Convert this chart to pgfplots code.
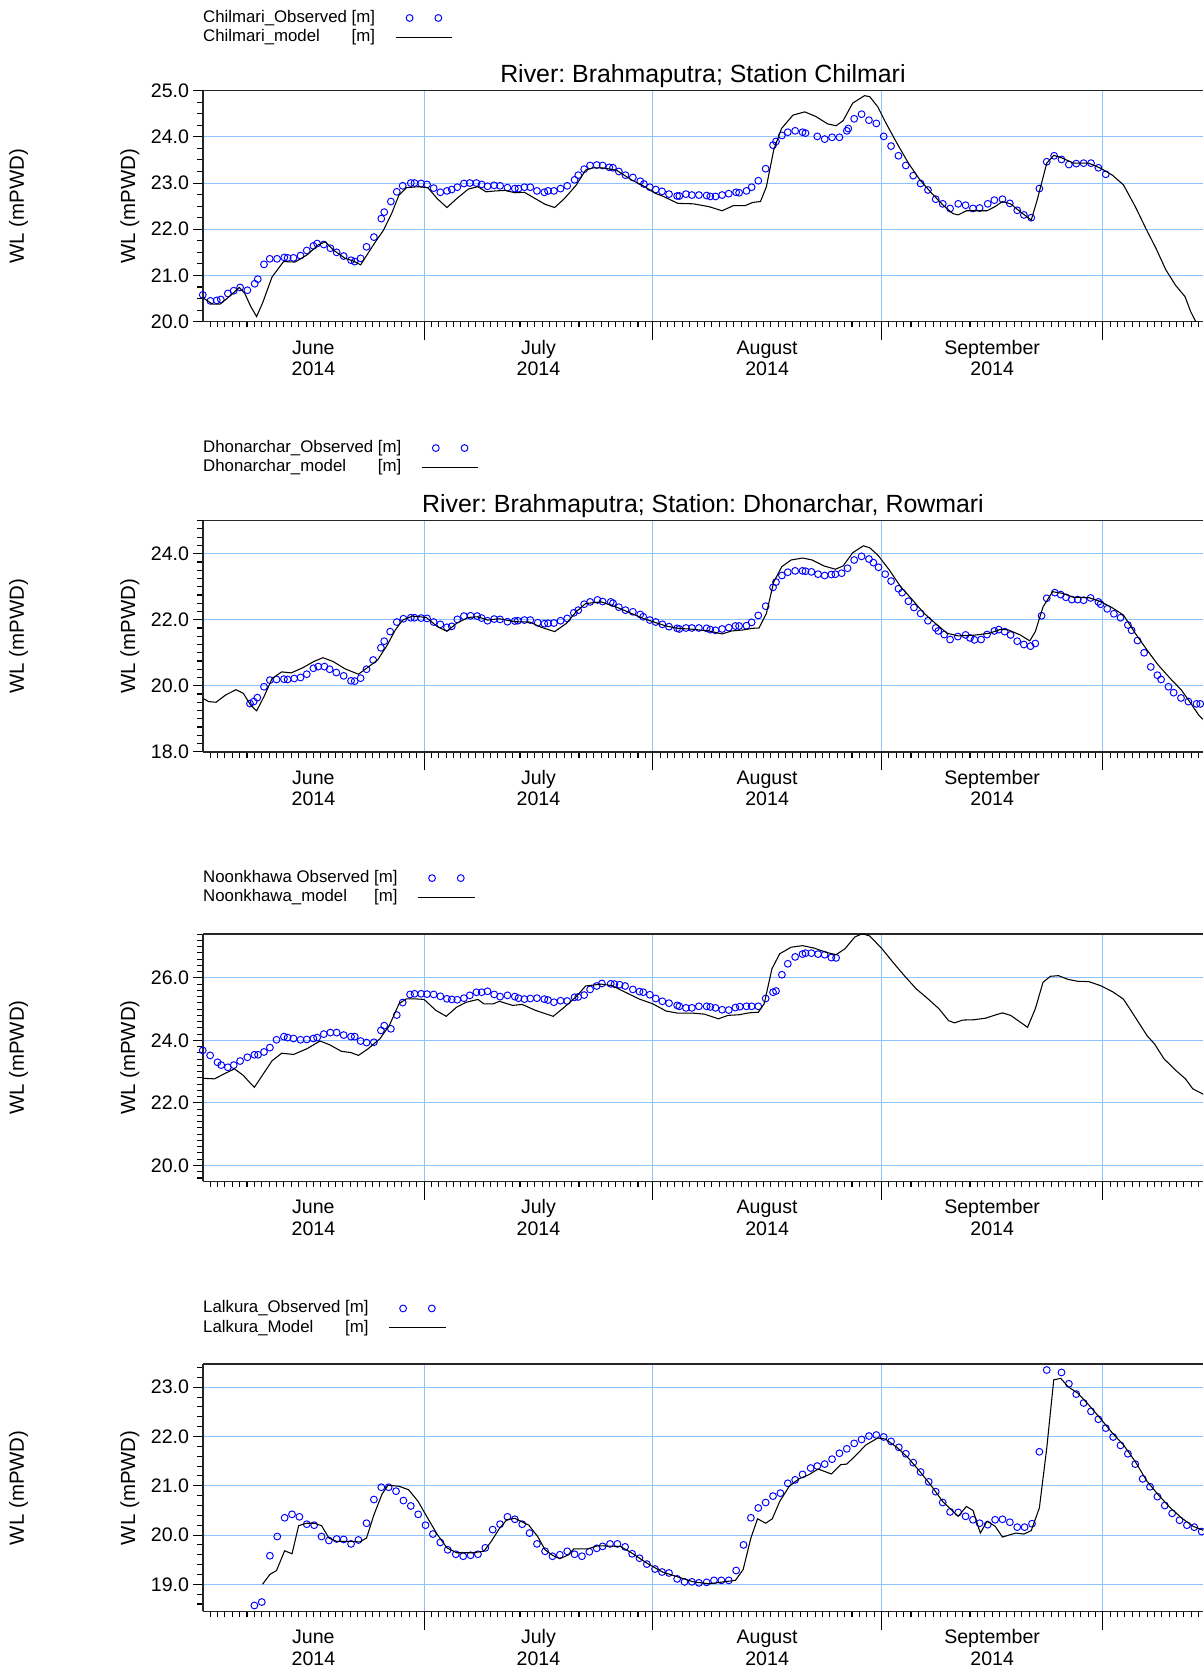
\documentclass[border=0pt]{standalone}
\usepackage{fontspec}
\setmainfont{Liberation Sans}
\usepackage{pgfplots}
\pgfplotsset{compat=1.18}
\frenchspacing
\definecolor{gridblue}{RGB}{140,195,255}
\definecolor{obsblue}{RGB}{0,0,255}
\newcommand{\tickfont}{\fontsize{9.2}{10.2}\selectfont}
\newcommand{\labfont}{\fontsize{9.6}{11}\selectfont}
\newcommand{\legfont}{\fontsize{7.9}{9}\selectfont}
\pgfplotsset{
  panel/.style={
    width=470.2pt, scale only axis,
    clip mode=individual,
    xmin=0, xmax=135.6,
    axis x line*=box, axis y line*=left,
    xtick pos=left, ytick pos=left,
    tick align=outside,
    major tick length=4.4pt, minor tick length=2.8pt,
    xtick={30,61,92,122}, xticklabels={},
    minor xtick={1,2,...,135},
    xtick style={/pgfplots/major tick length=8.7pt,/pgfplots/minor tick length=2.7pt},
    tick style={line width=0.5pt, black},
    xmajorgrids, ymajorgrids,
    major grid style={line width=0.5pt, gridblue},
    axis line style={line width=0.7pt, black!85},
    extra x ticks={15,45.5,76.5,107},
    extra x tick labels={{\vphantom{l}June\\2014},{\vphantom{l}July\\2014},{\vphantom{l}August\\2014},{\vphantom{l}September\\2014}},
    extra x tick style={grid=none, /pgfplots/major tick length=0pt, tick style={draw=none},
      tick label style={align=center, font=\tickfont, yshift=-5pt}},
    /pgf/number format/assume math mode=true,
    tick label style={font=\tickfont},
    yticklabel style={xshift=1.5pt, /pgf/number format/.cd, fixed, fixed zerofill, precision=1},
    legend cell align=left,
    legend plot pos=right,
    legend style={at={(0,1)}, anchor=south west, draw=none, fill=none, inner sep=0pt,
      font=\legfont, row sep=0.85pt, column sep=9.5pt,
      nodes={inner sep=0pt, text height=6.2pt, text depth=2pt}},
    title style={font=\fontsize{11.7}{13}\selectfont, at={(0.5,1)}, anchor=base, yshift=-2.3pt},
  },
  obs/.style={only marks, mark=o, mark size=1.6pt, color=obsblue, mark options={line width=0.45pt},
    legend image code/.code={\path (0pt,0pt) (26.5pt,0pt);
      \draw[obsblue, line width=0.45pt] plot[only marks, mark=o, mark size=1.6pt] coordinates {(6.5pt,0pt) (20pt,0pt)};}},
  mod/.style={black, line width=0.5pt, no marks,
    legend image code/.code={\draw[black, line width=0.5pt] (0pt,0pt) -- (26.5pt,0pt);}},
}
\newcommand{\wllabels}{%
  \node[rotate=90, font=\labfont, anchor=center] at ([xshift=-34.3pt]axis description cs:0,0.5) {WL (mPWD)};
  \node[rotate=90, font=\labfont, anchor=center] at ([xshift=-86.6pt]axis description cs:0,0.5) {WL (mPWD)};
}
\begin{document}
\begin{tikzpicture}
\path[use as bounding box] (0,0) rectangle (565.5pt,784pt);
% ---------------- Panel 1 ----------------
\begin{axis}[panel, at={(95.3pt,632.8pt)}, anchor=south west, height=108.6pt,
  ymin=20, ymax=25, ytick={20,21,...,25}, minor ytick={20,20.25,...,25},
  title={River: Brahmaputra; Station Chilmari},
  legend style={yshift=20.8pt}]
\addplot[obs] coordinates {
(0,20.58)(1.04,20.45)(1.9,20.46)(2.45,20.48)(3.4,20.61)(4.2,20.67)(5.06,20.74)(6.05,20.68)(7.04,20.82)(7.46,20.92)
(8.3,21.24)(9.08,21.36)(10.07,21.36)(11.06,21.39)(11.5,21.38)(12.3,21.38)(13.25,21.43)(14.1,21.54)(15.0,21.64)(15.5,21.69)
(16.4,21.67)(17.3,21.59)(18.15,21.5)(19.1,21.42)(20.1,21.33)(20.6,21.30)(21.4,21.37)(22.2,21.62)(23.2,21.83)(24.2,22.23)
(24.6,22.37)(25.5,22.6)(26.3,22.81)(27.1,22.94)(28.2,23.0)(28.7,23.0)(29.6,22.99)(30.4,22.97)(31.3,22.89)(32.2,22.8)
(33.1,22.83)(33.75,22.86)(34.5,22.91)(35.4,22.99)(36.2,23.0)(37.1,23.0)(37.8,22.97)(38.6,22.93)(39.5,22.95)(40.3,22.94)
(41.3,22.9)(42.3,22.88)(42.8,22.88)(43.6,22.91)(44.4,22.91)(45.3,22.83)(46.3,22.8)(46.8,22.83)(47.6,22.83)(48.5,22.88)
(49.4,22.94)(50.4,23.07)(50.9,23.17)(51.7,23.3)(52.5,23.38)(53.4,23.39)(54.2,23.38)(55.1,23.34)(55.6,23.33)(56.4,23.25)
(57.3,23.17)(58.3,23.12)(59.3,23.04)(59.8,22.98)(60.6,22.91)(61.4,22.86)(62.25,22.82)(63.2,22.76)(64.3,22.72)(64.6,22.72)
(65.5,22.76)(66.3,22.74)(67.25,22.74)(68.3,22.73)(68.8,22.71)(69.5,22.71)(70.4,22.74)(71.3,22.77)(72.3,22.8)(72.7,22.79)
(73.7,22.83)(74.4,22.91)(75.3,23.05)(76.3,23.31)(77.3,23.82)(77.7,23.9)(78.5,24.03)(79.3,24.1)(80.3,24.13)(81.3,24.1)
(81.7,24.08)(83.3,24.01)(84.3,23.95)(85.3,23.99)(86.3,23.99)(87.3,24.13)(87.5,24.18)(88.3,24.39)(89.3,24.49)(90.3,24.36)
(91.3,24.29)(92.3,24.01)(93.3,23.8)(94.3,23.59)(95.3,23.38)(96.3,23.16)(97.3,22.99)(98.3,22.85)(99.35,22.65)(100.3,22.55)
(101.3,22.45)(102.4,22.55)(103.4,22.52)(104.4,22.45)(105.3,22.46)(106.4,22.55)(107.3,22.63)(108.4,22.65)(109.4,22.56)(110.4,22.41)
(111.3,22.31)(112.3,22.25)(113.4,22.88)(114.4,23.46)(115.4,23.59)(116.4,23.51)(117.4,23.4)(118.4,23.42)(119.4,23.43)(120.4,23.43)
(121.4,23.33)(122.4,23.19)};
\addlegendentry{Chilmari\_Observed [m]}
\addplot[mod] coordinates {
(0,20.52)(1.3,20.38)(2.35,20.38)(3.65,20.55)(4.95,20.74)(5.7,20.61)(6.5,20.33)(7.3,20.11)(8.1,20.4)(9.4,20.97)
(10.95,21.3)(12.5,21.29)(14.1,21.44)(15.65,21.66)(16.6,21.73)(17.7,21.55)(19.3,21.37)(20.3,21.32)(21.4,21.23)(22.4,21.48)
(23.5,21.75)(24.5,21.98)(25.6,22.34)(26.6,22.74)(27.6,22.9)(29.2,22.92)(30.5,22.9)(31.8,22.66)(33.1,22.47)(34.4,22.66)
(36.0,22.87)(37.3,22.92)(38.4,22.81)(39.7,22.83)(41.0,22.84)(42.3,22.79)(43.6,22.8)(45.1,22.66)(46.4,22.54)(47.7,22.47)
(49.0,22.66)(50.6,22.95)(51.9,23.28)(52.9,23.33)(54.1,23.33)(56.05,23.28)(58.1,23.07)(59.7,22.94)(61.3,22.78)(62.3,22.72)
(64.4,22.56)(66.5,22.55)(68.6,22.49)(70.4,22.4)(71.9,22.51)(73.5,22.51)(74.55,22.58)(75.6,22.6)(76.4,22.92)(77.4,23.72)
(78.45,24.18)(80.0,24.47)(81.6,24.54)(83.1,24.44)(84.7,24.28)(85.85,24.24)(86.8,24.35)(88.1,24.73)(89.7,24.89)(90.4,24.87)
(91.5,24.65)(92.5,24.33)(94.1,23.86)(95.65,23.43)(97.2,23.07)(98.8,22.78)(100.3,22.53)(101.65,22.34)(102.4,22.31)(103.5,22.4)
(105.0,22.4)(106.3,22.4)(107.4,22.49)(108.4,22.6)(109.5,22.55)(110.8,22.38)(112.3,22.2)(113.1,22.63)(114.4,23.43)(115.35,23.6)
(116.5,23.54)(118.05,23.43)(120.1,23.43)(121.7,23.32)(123.3,23.17)(124.8,22.96)(126.4,22.49)(127.95,21.98)(129.2,21.59)(130.55,21.12)
(131.85,20.79)(133.15,20.54)(133.9,20.22)(134.6,20.0)(135.0,19.8)};
\addlegendentry{\rlap{Chilmari\_model}\hphantom{Chilmari\_Observed }[m]}
\wllabels
\end{axis}
% ---------------- Panel 2 ----------------
\begin{axis}[panel, at={(95.3pt,430.65pt)}, anchor=south west, height=108.6pt,
  ymin=18, ymax=25, ytick={18,20,22,24}, minor ytick={18,18.25,...,25},
  title={River: Brahmaputra; Station: Dhonarchar, Rowmari},
  legend style={yshift=20.8pt}]
\addplot[obs] coordinates {
(6.4,19.46)(6.9,19.52)(7.4,19.64)(8.3,19.97)(9.1,20.17)(10.0,20.19)(11.0,20.2)(11.5,20.19)(12.4,20.22)(13.25,20.25)
(14.1,20.35)(15.0,20.53)(15.65,20.58)(16.5,20.58)(17.2,20.5)(18.1,20.4)(19.1,20.3)(20.1,20.15)(20.6,20.14)(21.4,20.23)
(22.2,20.5)(23.1,20.78)(24.15,21.15)(24.6,21.35)(25.4,21.64)(26.3,21.93)(27.2,22.03)(28.2,22.06)(28.7,22.06)(29.6,22.05)
(30.4,22.04)(31.3,21.93)(32.2,21.86)(33.1,21.77)(33.75,21.8)(34.5,22.01)(35.4,22.11)(36.3,22.12)(37.2,22.11)(37.8,22.05)
(38.6,21.97)(39.5,22.02)(40.3,22.01)(41.3,21.94)(42.3,21.96)(42.7,21.97)(43.6,21.99)(44.4,21.99)(45.4,21.91)(46.3,21.88)
(46.8,21.89)(47.6,21.9)(48.5,21.97)(49.4,22.04)(50.3,22.21)(50.9,22.29)(51.7,22.47)(52.5,22.54)(53.5,22.6)(54.2,22.55)
(55.3,22.54)(55.6,22.5)(56.4,22.38)(57.3,22.29)(58.3,22.24)(59.3,22.16)(59.7,22.09)(60.6,21.99)(61.4,21.93)(62.3,21.86)
(63.2,21.79)(64.3,21.74)(64.6,21.72)(65.5,21.75)(66.3,21.75)(67.25,21.75)(68.3,21.74)(68.8,21.7)(69.5,21.68)(70.4,21.72)
(71.3,21.76)(72.2,21.81)(72.7,21.81)(73.7,21.82)(74.4,21.92)(75.3,22.13)(76.3,22.41)(77.3,22.98)(77.7,23.14)(78.5,23.34)
(79.3,23.44)(80.3,23.48)(81.3,23.48)(81.7,23.47)(82.5,23.45)(83.4,23.38)(84.3,23.34)(85.2,23.37)(85.75,23.38)(86.6,23.41)
(87.4,23.56)(88.3,23.81)(89.3,23.92)(90.3,23.84)(90.9,23.73)(91.6,23.59)(92.5,23.38)(93.3,23.17)(94.3,22.94)(94.8,22.82)
(95.65,22.56)(96.4,22.37)(97.3,22.19)(98.3,21.97)(99.35,21.75)(99.7,21.66)(100.5,21.55)(101.3,21.4)(102.35,21.49)(103.4,21.54)
(104.0,21.45)(104.6,21.39)(105.5,21.4)(106.3,21.55)(107.3,21.66)(107.9,21.7)(108.7,21.64)(109.5,21.54)(110.4,21.35)(111.3,21.25)
(112.2,21.2)(112.85,21.28)(113.7,22.12)(114.4,22.65)(115.5,22.82)(116.3,22.76)(117.0,22.68)(117.8,22.61)(118.6,22.61)(119.4,22.59)
(120.35,22.66)(121.4,22.54)(121.7,22.47)(122.6,22.33)(123.5,22.18)(124.4,22.06)(125.4,21.84)(125.9,21.68)(126.7,21.37)(127.6,21.0)
(128.5,20.57)(129.4,20.32)(129.9,20.19)(130.9,19.97)(131.6,19.79)(132.6,19.63)(133.6,19.52)(134.7,19.45)(135.2,19.45)};
\addlegendentry{Dhonarchar\_Observed [m]}
\addplot[mod] coordinates {
(0,19.62)(0.8,19.52)(1.8,19.5)(3.1,19.72)(4.5,19.88)(5.5,19.77)(6.5,19.41)(7.3,19.24)(8.3,19.67)(9.4,20.22)
(10.7,20.42)(12.0,20.39)(13.6,20.55)(15.1,20.74)(16.3,20.85)(17.7,20.73)(19.3,20.51)(21.1,20.35)(22.4,20.56)(23.7,20.78)
(25.0,21.23)(26.1,21.69)(27.1,21.99)(28.4,22.11)(30.3,22.07)(31.8,21.79)(33.1,21.65)(34.4,21.89)(36.0,22.07)(37.3,22.09)
(38.6,21.99)(40.2,22.03)(42.3,21.94)(44.3,21.93)(45.9,21.77)(47.7,21.64)(49.3,21.89)(50.6,22.24)(51.9,22.49)(54.0,22.54)
(56.0,22.39)(58.1,22.19)(59.7,22.04)(61.3,21.92)(62.8,21.81)(64.4,21.74)(66.5,21.71)(68.6,21.66)(70.4,21.57)(71.7,21.66)
(73.2,21.69)(74.5,21.74)(75.4,21.75)(76.4,22.19)(77.4,23.15)(78.5,23.61)(79.75,23.81)(81.3,23.87)(82.6,23.81)(84.2,23.63)
(85.75,23.53)(86.8,23.63)(88.1,24.03)(89.55,24.24)(90.4,24.18)(91.5,23.96)(93.05,23.51)(94.6,23.0)(96.2,22.6)(97.7,22.21)
(99.3,21.89)(100.9,21.59)(102.4,21.51)(104.5,21.53)(106.6,21.59)(108.2,21.71)(109.2,21.69)(110.8,21.54)(112.1,21.36)(112.85,21.64)
(113.9,22.39)(115.2,22.85)(116.5,22.8)(118.05,22.68)(120.1,22.67)(121.7,22.55)(123.3,22.36)(124.8,22.14)(126.4,21.59)(128.0,21.08)
(129.5,20.63)(131.1,20.23)(132.65,19.87)(133.95,19.46)(135.0,19.11)(135.7,18.96)};
\addlegendentry{\rlap{Dhonarchar\_model}\hphantom{Dhonarchar\_Observed }[m]}
\wllabels
\end{axis}
% ---------------- Panel 3 ----------------
\begin{axis}[panel, at={(95.3pt,228.7pt)}, anchor=south west, height=116.4pt,
  ymin=19.49, ymax=27.41, ytick={20,22,24,26}, minor ytick={19.6,19.8,...,27.4},
  legend style={yshift=12.8pt}]
\addplot[obs] coordinates {
(0,23.68)(1.0,23.52)(2.0,23.3)(2.5,23.21)(3.4,23.14)(4.2,23.21)(5.06,23.34)(6.05,23.46)(7.0,23.54)(7.5,23.54)
(8.3,23.63)(9.1,23.77)(10.0,24.02)(11.0,24.12)(11.5,24.09)(12.3,24.06)(13.25,24.02)(14.1,24.03)(15.0,24.06)(15.5,24.09)
(16.4,24.2)(17.3,24.25)(18.15,24.25)(19.1,24.17)(20.1,24.12)(20.6,24.12)(21.4,23.98)(22.2,23.93)(23.2,23.94)(24.15,24.32)
(24.6,24.47)(25.5,24.37)(26.3,24.81)(27.1,25.21)(28.1,25.47)(28.7,25.49)(29.6,25.49)(30.4,25.48)(31.3,25.47)(32.2,25.41)
(33.1,25.33)(33.75,25.31)(34.5,25.3)(35.4,25.35)(36.2,25.44)(37.1,25.54)(37.8,25.54)(38.6,25.57)(39.5,25.47)(40.3,25.4)
(41.3,25.44)(42.3,25.4)(42.8,25.35)(43.6,25.32)(44.4,25.34)(45.3,25.35)(46.3,25.32)(46.8,25.29)(47.6,25.22)(48.5,25.27)
(49.4,25.26)(50.4,25.38)(50.9,25.39)(51.7,25.45)(52.5,25.63)(53.4,25.74)(54.1,25.82)(55.3,25.81)(55.8,25.8)(56.5,25.78)
(57.25,25.74)(58.3,25.63)(59.2,25.56)(59.7,25.54)(60.6,25.46)(61.4,25.34)(62.3,25.25)(63.2,25.19)(64.3,25.12)(64.6,25.09)
(65.5,25.04)(66.3,25.04)(67.25,25.09)(68.3,25.09)(68.8,25.07)(69.5,25.04)(70.4,24.98)(71.3,24.97)(72.2,25.05)(72.8,25.08)
(73.7,25.09)(74.4,25.09)(75.3,25.09)(76.3,25.34)(77.3,25.54)(77.7,25.58)(78.5,26.1)(79.3,26.45)(80.3,26.67)(81.3,26.76)
(81.7,26.79)(82.5,26.79)(83.4,26.76)(84.3,26.74)(85.2,26.65)(85.85,26.64)};
\addlegendentry{Noonkhawa Observed [m]}
\addplot[mod] coordinates {
(0,22.79)(1.6,22.77)(2.9,22.93)(4.3,23.09)(5.5,22.88)(6.3,22.67)(7.0,22.5)(8.35,22.98)(9.4,23.35)(10.7,23.59)
(12.3,23.55)(14.1,23.73)(15.9,23.98)(17.2,23.86)(18.8,23.65)(20.1,23.61)(21.1,23.52)(22.4,23.73)(24.0,24.05)(25.3,24.48)
(26.6,25.17)(27.6,25.33)(28.7,25.33)(30.0,25.31)(31.6,24.96)(33.0,24.77)(34.4,25.06)(35.7,25.22)(37.3,25.31)(38.1,25.17)
(39.4,25.17)(40.2,25.25)(42.0,25.12)(43.3,25.15)(45.1,24.96)(47.5,24.77)(49.0,25.06)(50.6,25.39)(51.9,25.74)(54.0,25.8)
(55.5,25.75)(57.1,25.56)(59.2,25.32)(61.0,25.17)(62.8,24.94)(64.4,24.87)(66.5,24.87)(68.0,24.84)(69.9,24.69)(71.2,24.8)
(72.7,24.82)(74.0,24.88)(75.3,24.9)(76.1,25.17)(77.15,26.29)(78.2,26.77)(79.75,26.98)(81.3,27.03)(82.9,26.95)(84.45,26.82)
(85.85,26.74)(87.05,26.93)(88.4,27.31)(89.4,27.41)(90.4,27.34)(92.0,26.95)(93.55,26.5)(95.1,26.07)(96.7,25.65)(98.3,25.33)
(99.8,25.01)(101.1,24.63)(101.9,24.56)(103.0,24.65)(104.5,24.66)(106.1,24.71)(107.4,24.81)(108.4,24.88)(109.5,24.8)(111.8,24.42)
(112.85,25.01)(113.9,25.86)(114.9,26.05)(116.0,26.07)(117.3,25.95)(118.6,25.89)(120.1,25.88)(121.7,25.75)(123.3,25.56)(124.8,25.32)
(126.4,24.74)(128.0,24.15)(129.0,23.89)(130.3,23.41)(131.9,23.04)(133.2,22.77)(134.2,22.45)(135.7,22.27)};
\addlegendentry{\rlap{Noonkhawa\_model}\hphantom{Noonkhawa Observed }[m]}
\wllabels
\end{axis}
% ---------------- Panel 4 ----------------
\begin{axis}[panel, at={(95.3pt,26.6pt)}, anchor=south west, height=116.25pt,
  ymin=18.45, ymax=23.47, ytick={19,20,...,23}, minor ytick={18.6,18.8,...,23.4},
  legend style={yshift=12.8pt}]
\addplot[obs] coordinates {
(7.0,18.57)(8.0,18.64)(9.1,19.58)(10.1,19.97)(11.1,20.35)(12.1,20.42)(13.1,20.37)(14.1,20.22)(15.1,20.2)(16.1,19.97)
(17.1,19.89)(18.15,19.92)(19.1,19.91)(20.1,19.82)(21.1,19.9)(22.2,20.24)(23.2,20.72)(24.2,20.97)(25.2,20.97)(26.2,20.89)
(27.2,20.7)(28.2,20.59)(29.2,20.42)(30.2,20.2)(31.2,20.02)(32.2,19.85)(33.2,19.7)(34.3,19.61)(35.3,19.57)(36.3,19.59)
(37.3,19.61)(38.3,19.74)(39.3,20.11)(40.3,20.22)(41.3,20.37)(42.3,20.32)(43.3,20.22)(44.3,20.04)(45.3,19.82)(46.4,19.67)
(47.4,19.57)(48.4,19.6)(49.4,19.67)(50.4,19.61)(51.4,19.57)(52.4,19.66)(53.4,19.73)(54.2,19.77)(55.2,19.82)(56.2,19.82)
(57.25,19.76)(58.2,19.62)(59.2,19.53)(60.2,19.41)(61.3,19.31)(62.25,19.25)(63.2,19.23)(64.3,19.11)(65.3,19.05)(66.3,19.05)
(67.25,19.03)(68.3,19.04)(69.3,19.08)(70.3,19.08)(71.3,19.08)(72.3,19.28)(73.3,19.8)(74.3,20.35)(75.3,20.55)(76.3,20.66)
(77.3,20.79)(78.3,20.85)(79.3,21.05)(80.3,21.12)(81.3,21.23)(82.4,21.36)(83.3,21.4)(84.3,21.44)(85.3,21.54)(86.3,21.66)
(87.3,21.75)(88.3,21.86)(89.3,21.94)(90.3,22.01)(91.3,22.03)(92.3,21.99)(93.3,21.9)(94.35,21.78)(95.3,21.65)(96.3,21.47)
(97.3,21.28)(98.4,21.08)(99.35,20.88)(100.3,20.66)(101.3,20.47)(102.4,20.46)(103.4,20.38)(104.4,20.31)(105.3,20.24)(106.4,20.21)
(107.4,20.31)(108.4,20.32)(109.4,20.26)(110.4,20.16)(111.4,20.16)(112.4,20.23)(113.4,21.69)(114.4,23.35)(116.4,23.3)(117.4,23.07)
(118.4,22.86)(119.4,22.68)(120.4,22.51)(121.4,22.35)(122.4,22.17)(123.4,21.99)(124.4,21.82)(125.4,21.65)(126.4,21.44)(127.4,21.14)
(128.4,20.98)(129.4,20.78)(130.4,20.6)(131.4,20.44)(132.4,20.3)(133.4,20.2)(134.4,20.16)(135.4,20.07)};
\addlegendentry{Lalkura\_Observed [m]}
\addplot[mod] coordinates {
(8.1,19.0)(9.1,19.2)(10.0,19.28)(11.1,19.68)(12.1,19.62)(13.0,20.19)(14.1,20.24)(15.1,20.24)(16.1,20.19)(17.1,19.94)
(18.15,19.87)(20.1,19.87)(21.3,19.86)(22.2,19.94)(23.2,20.41)(24.3,20.83)(25.1,21.01)(26.6,20.99)(27.9,20.92)(29.2,20.68)
(30.5,20.34)(31.8,20.01)(33.1,19.74)(34.4,19.64)(36.5,19.64)(38.1,19.67)(39.1,19.87)(40.2,20.13)(41.2,20.31)(42.3,20.34)
(44.2,20.2)(45.4,19.97)(46.4,19.7)(47.5,19.58)(48.4,19.52)(49.6,19.6)(50.3,19.72)(52.2,19.72)(53.5,19.78)(54.0,19.78)
(56.6,19.77)(58.1,19.64)(60.2,19.43)(62.3,19.25)(64.4,19.15)(66.5,19.05)(68.6,19.01)(70.6,19.05)(72.2,19.08)(73.25,19.3)
(74.3,19.94)(75.2,20.33)(76.3,20.24)(77.2,20.33)(78.2,20.68)(79.5,20.99)(80.8,21.14)(82.1,21.22)(83.4,21.34)(85.2,21.24)
(86.5,21.43)(87.3,21.44)(88.6,21.63)(89.9,21.83)(91.5,21.97)(92.5,21.95)(94.1,21.78)(95.65,21.56)(97.2,21.29)(98.8,20.99)
(100.3,20.68)(102.4,20.38)(103.5,20.58)(104.4,20.5)(105.4,20.04)(106.3,20.28)(107.4,20.18)(108.4,19.96)(110.2,20.04)(111.3,20.02)
(112.3,20.09)(113.4,20.55)(114.4,21.76)(115.35,23.15)(116.3,23.18)(117.3,23.01)(118.6,22.88)(120.1,22.64)(121.7,22.36)(123.3,22.07)
(124.8,21.83)(126.4,21.49)(128.0,21.09)(129.5,20.82)(131.1,20.56)(132.65,20.35)(134.2,20.18)(135.7,20.09)};
\addlegendentry{\rlap{Lalkura\_Model}\hphantom{Lalkura\_Observed }[m]}
\wllabels
\end{axis}
\end{tikzpicture}
\end{document}
